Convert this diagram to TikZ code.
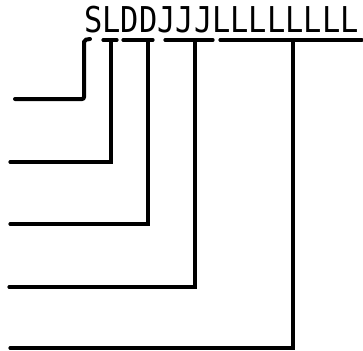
\documentclass[tikz,border=0pt]{standalone}
\usepackage{fontspec}
\usepackage{tikz}
\usetikzlibrary{positioning}
\newfontfamily\codefont{DejaVu Sans Mono}

\begin{document}
\begin{tikzpicture}[x=1pt,y=-1pt,
      lead/.style={line width=3.2pt,line cap=round,line join=miter},
      code/.style={font=\fontsize{30.4}{30.4}\selectfont\codefont,inner sep=0pt,
        anchor=base west,yscale=1.17}
    ]
      \useasboundingbox (0,0) rectangle (363,350);
      \node[code] (fmt) at (84,33) {SLDDJJJLLLLLLLL};
      % field S
      \coordinate (sTop) at (90,39);
      \coordinate (sEnd) at (15,99);
      \draw[lead,line width=4pt,rounded corners=2pt] (sTop) -- (84,40) |- (sEnd);
      % field L
      \coordinate (lEnd) at (10,162);
      \draw[lead] (103,40) -- (117,40);
      \draw[lead] (111,40) |- (lEnd);
      % field DD
      \coordinate (dEnd) at (10,224);
      \draw[lead] (123,40) -- (153,40);
      \draw[lead] (148,40) |- (dEnd);
      % field JJJ
      \coordinate (jEnd) at (9,287);
      \draw[lead] (165,40) -- (213,40);
      \draw[lead] (195,40) |- (jEnd);
      % field LLLLLLLL
      \coordinate (nEnd) at (10,348);
      \draw[lead] (220,40) -- (362,40);
      \draw[lead] (293,40) |- (nEnd);
    \end{tikzpicture}
\end{document}
